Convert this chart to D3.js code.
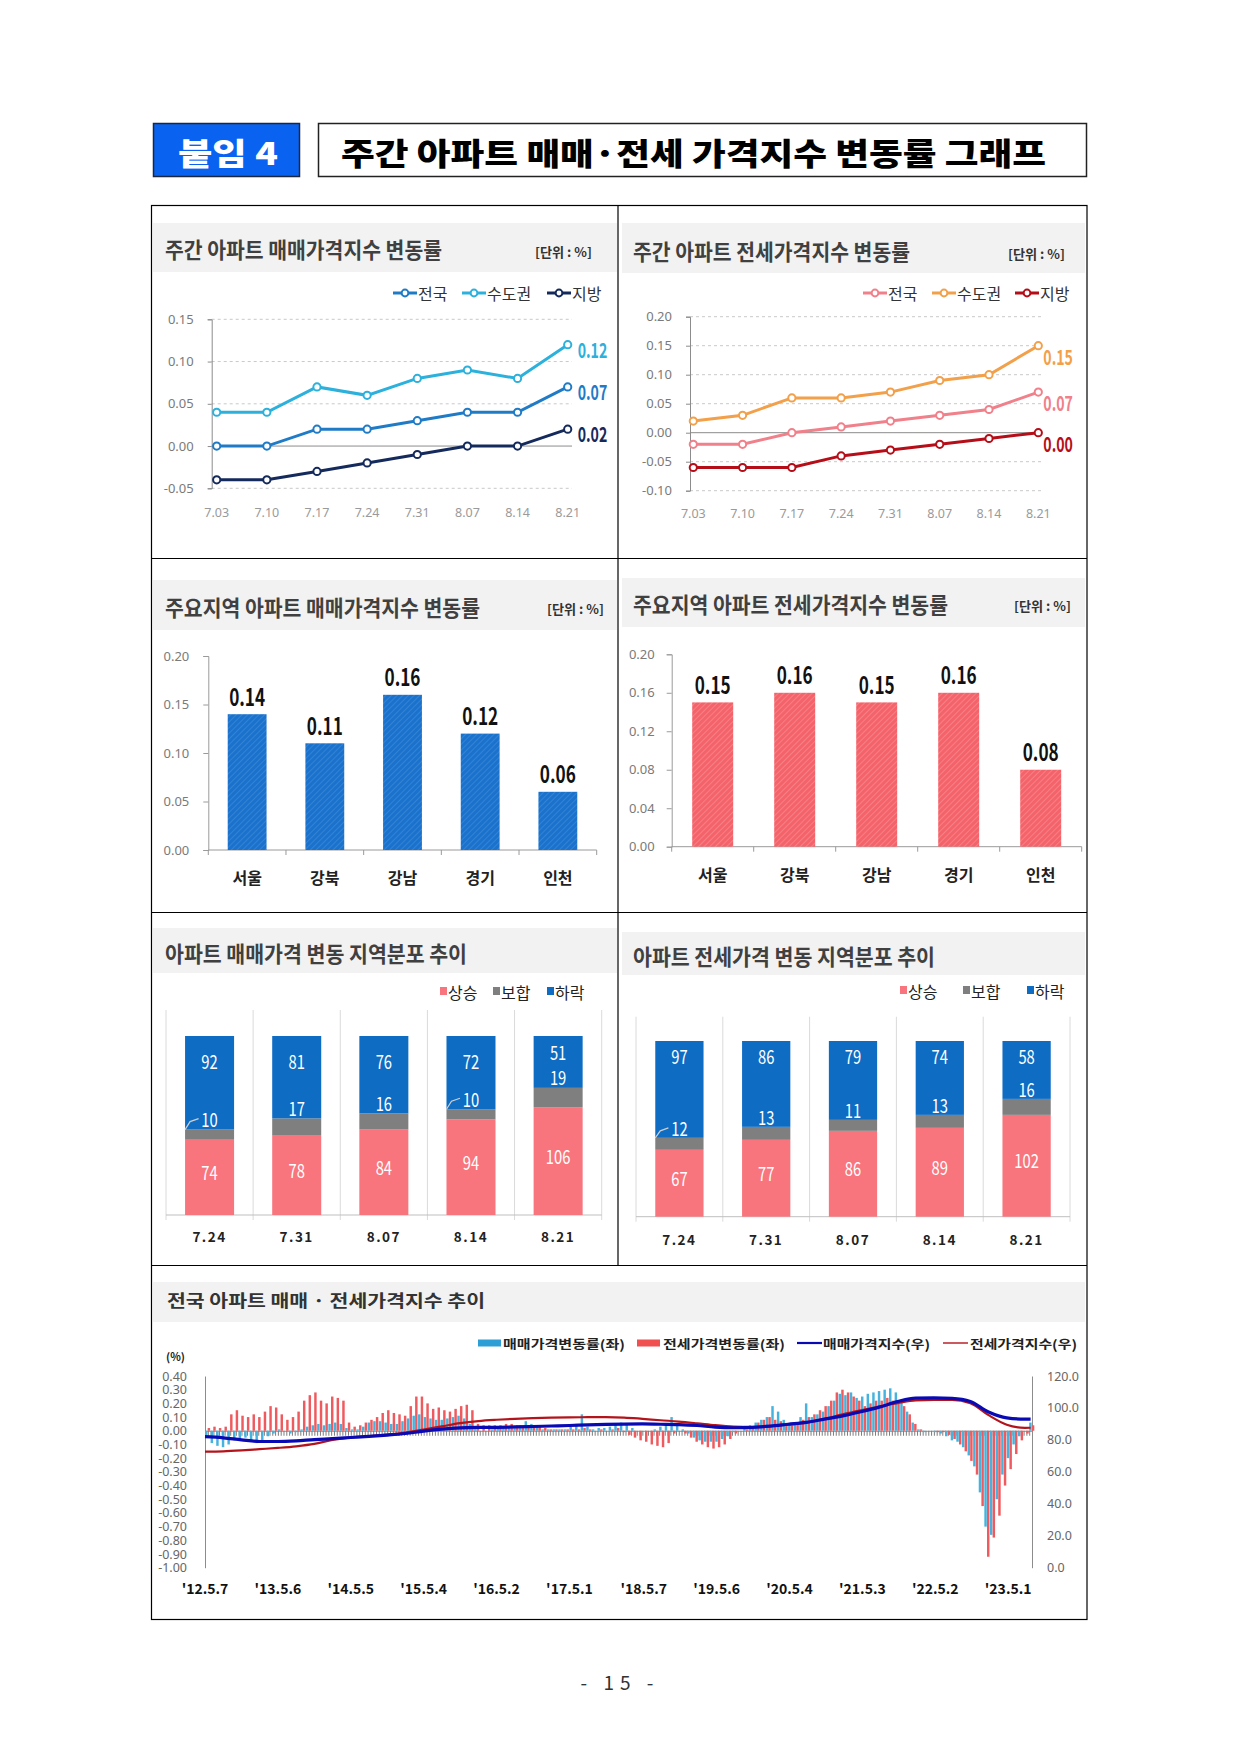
<!DOCTYPE html>
<html>
<head>
<meta charset="utf-8">
<script src="https://cdn.jsdelivr.net/npm/d3@7"></script>
<style>
body { margin: 0; background: #fff; }
svg { display: block; font-family: "Noto Sans CJK KR", "Noto Sans", sans-serif; }
</style>
</head>
<body>
<script>
// ---- data ----
var weekLabels = ["7.03", "7.10", "7.17", "7.24", "7.31", "8.07", "8.14", "8.21"];
var saleNation = [0.00, 0.00, 0.02, 0.02, 0.03, 0.04, 0.04, 0.07];
var saleCapital = [0.04, 0.04, 0.07, 0.06, 0.08, 0.09, 0.08, 0.12];
var saleLocal = [-0.04, -0.04, -0.03, -0.02, -0.01, 0.00, 0.00, 0.02];
var jeonseNation = [-0.02, -0.02, 0.00, 0.01, 0.02, 0.03, 0.04, 0.07];
var jeonseCapital = [0.02, 0.03, 0.06, 0.06, 0.07, 0.09, 0.10, 0.15];
var jeonseLocal = [-0.06, -0.06, -0.06, -0.04, -0.03, -0.02, -0.01, 0.00];
var seriesNames = ["전국", "수도권", "지방"];

var regions = ["서울", "강북", "강남", "경기", "인천"];
var regionSale = [0.14, 0.11, 0.16, 0.12, 0.06];
var regionJeonse = [0.15, 0.16, 0.15, 0.16, 0.08];

var distWeeks = ["7.24", "7.31", "8.07", "8.14", "8.21"];
var distNames = ["상승", "보합", "하락"];
var saleUp = [74, 78, 84, 94, 106];
var saleFlat = [10, 17, 16, 10, 19];
var saleDown = [92, 81, 76, 72, 51];
var jeonseUp = [67, 77, 86, 89, 102];
var jeonseFlat = [12, 13, 11, 13, 16];
var jeonseDown = [97, 86, 79, 74, 58];

// long series, one value per 4 weeks from '12.5.7
var saleChg = [
  -0.05, -0.09, -0.11, -0.12, -0.10, -0.07, -0.06, -0.05, -0.07, -0.09, -0.08, -0.04, -0.02,
  0.01, 0.00, -0.02, -0.01, 0.01, 0.03, 0.04, 0.05, 0.04, 0.05, 0.06, 0.05, 0.02,
  0.01, 0.01, 0.03, 0.06, 0.07, 0.07, 0.06, 0.05, 0.05, 0.07, 0.09, 0.11, 0.12,
  0.10, 0.09, 0.08, 0.08, 0.09, 0.10, 0.11, 0.09, 0.05, 0.02, 0.00, 0.00, 0.01,
  0.02, 0.03, 0.03, 0.03, 0.04, 0.07, 0.05, 0.03, 0.01, 0.01, 0.01, 0.01, 0.01,
  0.03, 0.05, 0.12, 0.03, 0.01, 0.02, 0.02, 0.03, 0.05, 0.06, 0.05, 0.02, 0.00,
  0.00, 0.00, 0.01, 0.03, 0.05, 0.10, 0.05, 0.01, -0.02, -0.05, -0.07, -0.08, -0.08,
  -0.08, -0.06, -0.04, -0.01, 0.00, 0.02, 0.04, 0.06, 0.08, 0.10, 0.18, 0.14, 0.08,
  0.04, 0.05, 0.10, 0.20, 0.10, 0.12, 0.14, 0.18, 0.22, 0.27, 0.26, 0.28, 0.24,
  0.25, 0.27, 0.28, 0.29, 0.30, 0.31, 0.28, 0.22, 0.14, 0.06, 0.01, -0.01, 0.00,
  -0.01, -0.02, -0.04, -0.07, -0.08, -0.12, -0.18, -0.26, -0.45, -0.70, -0.76, -0.50, -0.32,
  -0.20, -0.10, -0.04, 0.00, 0.06
];
var jeonseChg = [
  0.02, 0.03, 0.02, 0.03, 0.12, 0.15, 0.11, 0.10, 0.12, 0.10, 0.14, 0.18, 0.17,
  0.12, 0.08, 0.10, 0.14, 0.22, 0.26, 0.28, 0.22, 0.20, 0.25, 0.24, 0.22, 0.06,
  0.03, 0.04, 0.06, 0.08, 0.10, 0.13, 0.15, 0.13, 0.12, 0.11, 0.18, 0.25, 0.25,
  0.20, 0.16, 0.17, 0.15, 0.14, 0.16, 0.18, 0.19, 0.15, 0.05, 0.04, 0.04, 0.04,
  0.04, 0.05, 0.05, 0.04, 0.03, 0.04, 0.04, 0.03, 0.02, 0.01, 0.01, 0.01, 0.01,
  0.01, 0.01, 0.02, 0.01, 0.00, 0.01, 0.00, 0.01, 0.02, -0.01, -0.03, -0.05, -0.07,
  -0.08, -0.10, -0.11, -0.12, -0.09, -0.02, 0.00, -0.02, -0.05, -0.08, -0.10, -0.12, -0.13,
  -0.12, -0.10, -0.06, -0.02, 0.00, 0.01, 0.03, 0.06, 0.08, 0.10, 0.08, 0.07, 0.05,
  0.04, 0.05, 0.08, 0.10, 0.12, 0.15, 0.18, 0.22, 0.28, 0.30, 0.28, 0.25, 0.22,
  0.18, 0.20, 0.22, 0.22, 0.24, 0.22, 0.22, 0.18, 0.12, 0.05, 0.01, 0.00, 0.00,
  -0.01, -0.01, -0.03, -0.06, -0.10, -0.15, -0.22, -0.32, -0.55, -0.92, -0.78, -0.62, -0.40,
  -0.28, -0.17, -0.07, -0.02, 0.04
];
// index values, one per 13 weeks plus the last week
var saleIdx = [82.0, 81.3, 80.0, 79.0, 79.0, 79.4, 80.2, 80.8, 81.5, 82.2, 83.0, 84.0, 85.5,
  86.7, 87.5, 87.8, 87.9, 88.1, 88.4, 88.7, 89.0, 89.4, 89.7, 89.9, 90.0, 89.8, 89.6, 89.0,
  88.0, 87.6, 87.8, 88.6, 89.8, 91.0, 93.0, 95.0, 97.6, 100.5, 104.0, 106.2, 106.3, 106.0,
  104.0, 97.5, 93.8, 93.0, 93.0];
var jeonseIdx = [72.6, 72.8, 73.4, 74.2, 75.0, 76.0, 77.5, 80.0, 81.6, 82.4, 83.3, 84.6, 86.5,
  88.5, 90.5, 91.8, 92.6, 93.2, 93.6, 93.9, 94.1, 94.2, 94.3, 94.0, 93.2, 92.3, 91.5, 90.4,
  89.2, 88.3, 88.0, 88.5, 89.5, 90.8, 93.2, 96.0, 98.5, 100.8, 103.0, 104.8, 105.0, 105.0,
  103.0, 95.5, 89.5, 87.5, 87.6];
var longTicks = ["'12.5.7", "'13.5.6", "'14.5.5", "'15.5.4", "'16.5.2", "'17.5.1",
  "'18.5.7", "'19.5.6", "'20.5.4", "'21.5.3", "'22.5.2", "'23.5.1"];
var longTickWeeks = [0, 52, 104, 156, 208, 260, 313, 365, 417, 469, 521, 573];
var leftTicks = [0.4, 0.3, 0.2, 0.1, 0, -0.1, -0.2, -0.3, -0.4, -0.5, -0.6, -0.7, -0.8, -0.9, -1.0];
var rightTicks = [0, 20, 40, 60, 80, 100, 120];
var longLegend = ["매매가격변동률(좌)", "전세가격변동률(좌)", "매매가격지수(우)", "전세가격지수(우)"];

var svg = d3.select("body").append("svg")
    .attr("width", 1240)
    .attr("height", 1753);

// squeeze numbers so they look like the narrow figures of the original
function narrow(sel, perChar) {
    sel.attr("lengthAdjust", "spacingAndGlyphs")
        .attr("textLength", function() { return this.textContent.length * perChar; });
}

var defs = svg.append("defs");
function hatch(id, base, stripe) {
    var p = defs.append("pattern")
        .attr("id", id)
        .attr("patternUnits", "userSpaceOnUse")
        .attr("width", 4).attr("height", 4)
        .attr("patternTransform", "rotate(45)");
    p.append("rect").attr("width", 4).attr("height", 4).attr("fill", base);
    p.append("line").attr("x1", 0).attr("y1", 0).attr("x2", 0).attr("y2", 4)
        .attr("stroke", stripe).attr("stroke-width", 1.4);
}
hatch("hatchBlue", "#1a72cc", "#3e8ad8");
hatch("hatchRed", "#f4636a", "#f88c90");

// ---- header ----
svg.append("rect").attr("x", 153.5).attr("y", 123.5).attr("width", 146).attr("height", 53)
    .attr("fill", "#0a63f0").attr("stroke", "#1b2740").attr("stroke-width", 1.5);
svg.append("text").attr("x", 228).attr("y", 151.5).attr("text-anchor", "middle")
    .attr("dominant-baseline", "central")
    .attr("font-size", 31).attr("font-weight", 900).attr("fill", "#fff")
    .attr("textLength", 100).attr("lengthAdjust", "spacingAndGlyphs")
    .text("붙임 4");
svg.append("rect").attr("x", 318.5).attr("y", 123.5).attr("width", 768).attr("height", 53)
    .attr("fill", "#fff").attr("stroke", "#222").attr("stroke-width", 1.5);
svg.append("text").attr("x", 341).attr("y", 151).attr("dominant-baseline", "central")
    .attr("font-size", 31).attr("font-weight", 900).attr("fill", "#000")
    .attr("textLength", 705).attr("lengthAdjust", "spacingAndGlyphs")
    .text("주간 아파트 매매·전세 가격지수 변동률 그래프");

// ---- frame ----
svg.append("rect").attr("x", 151.5).attr("y", 205.5).attr("width", 935.5).attr("height", 1414)
    .attr("fill", "none").attr("stroke", "#000").attr("stroke-width", 1.2);
svg.append("line").attr("x1", 618).attr("x2", 618).attr("y1", 205.5).attr("y2", 1265.5)
    .attr("stroke", "#000").attr("stroke-width", 1.2);
[558.5, 912.5, 1265.5].forEach(function(y) {
    svg.append("line").attr("x1", 151.5).attr("x2", 1087).attr("y1", y).attr("y2", y)
        .attr("stroke", "#000").attr("stroke-width", 1.2);
});

function band(x, y, w, h) {
    svg.append("rect").attr("x", x).attr("y", y).attr("width", w).attr("height", h).attr("fill", "#f2f2f2");
}
function title(x, y, len, size, txt, color) {
    svg.append("text").attr("x", x).attr("y", y).attr("dominant-baseline", "central")
        .attr("font-size", size).attr("font-weight", 700).attr("fill", color || "#404040")
        .attr("textLength", len).attr("lengthAdjust", "spacingAndGlyphs")
        .text(txt);
}
function unit(x, y) {
    svg.append("text").attr("x", x).attr("y", y).attr("dominant-baseline", "central")
        .attr("font-size", 13).attr("font-weight", 700).attr("fill", "#333")
        .attr("textLength", 57).attr("lengthAdjust", "spacingAndGlyphs")
        .text("[단위 : %]");
}

band(153, 223, 464, 49);  title(165, 248, 277, 22, "주간 아파트 매매가격지수 변동률");  unit(535, 251);
band(622, 223, 463, 50);  title(633, 250, 277, 22, "주간 아파트 전세가격지수 변동률");  unit(1008, 253);
band(153, 580, 464, 50);  title(165, 606, 315, 22, "주요지역 아파트 매매가격지수 변동률"); unit(547, 608);
band(622, 578, 463, 49);  title(633, 603, 315, 22, "주요지역 아파트 전세가격지수 변동률"); unit(1014, 605);
band(153, 928, 464, 45);  title(165, 952, 302, 22, "아파트 매매가격 변동 지역분포 추이");
band(622, 932, 463, 43);  title(633, 955, 302, 22, "아파트 전세가격 변동 지역분포 추이");
band(153, 1282, 932, 40); title(167, 1299, 318, 17, "전국 아파트 매매 · 전세가격지수 추이", "#333");

// ---- weekly line charts ----
function lineChart(c) {
    var x = d3.scalePoint().domain(weekLabels).range([c.x0, c.x1]);
    var y = d3.scaleLinear().domain(c.domain).range(c.yRange);
    var g = svg.append("g");

    g.selectAll("line.grid").data(c.ticks).join("line")
        .attr("x1", c.axisX).attr("x2", c.gridRight)
        .attr("y1", function(d) { return y(d); }).attr("y2", function(d) { return y(d); })
        .attr("stroke", function(d) { return d === 0 ? "#8c8c8c" : "#c9c9c9"; })
        .attr("stroke-dasharray", function(d) { return d === 0 ? null : "3,3"; });

    var ax = g.append("g").attr("transform", "translate(" + c.axisX + ",0)")
        .call(d3.axisLeft(y).tickValues(c.ticks).tickSize(4).tickPadding(14)
            .tickFormat(function(d) { return d.toFixed(2); }));
    ax.select(".domain").attr("stroke", "#8c8c8c");
    ax.selectAll(".tick line").attr("stroke", "#8c8c8c");
    ax.selectAll("text").attr("font-size", 13).attr("fill", "#7a7a7a").attr("font-family", "Noto Sans");

    g.selectAll("text.xl").data(weekLabels).join("text")
        .attr("x", function(d) { return x(d); }).attr("y", c.xLabelY)
        .attr("text-anchor", "middle").attr("dominant-baseline", "central")
        .attr("font-size", 12.5).attr("fill", "#9a9a9a").attr("font-family", "Noto Sans")
        .text(function(d) { return d; });

    var line = d3.line().x(function(d, i) { return x(weekLabels[i]); }).y(function(d) { return y(d); });
    c.series.forEach(function(s) {
        g.append("path").attr("d", line(s.vals)).attr("fill", "none")
            .attr("stroke", s.color).attr("stroke-width", 3);
        g.selectAll(null).data(s.vals).join("circle")
            .attr("cx", function(d, i) { return x(weekLabels[i]); })
            .attr("cy", function(d) { return y(d); })
            .attr("r", 3.6).attr("fill", "#fff").attr("stroke", s.color).attr("stroke-width", 2);
        var last = s.vals[s.vals.length - 1];
        g.append("text").attr("x", c.x1 + c.labelDx).attr("y", y(last) + c.labelDy)
            .attr("dominant-baseline", "central")
            .attr("font-size", 21).attr("font-weight", 700).attr("fill", s.color)
            .text(last.toFixed(2))
            .call(narrow, 7.4);
    });

    // legend
    c.series.forEach(function(s, i) {
        var lx = c.legendX + c.legendSteps[i];
        g.append("line").attr("x1", lx).attr("x2", lx + 24).attr("y1", c.legendY).attr("y2", c.legendY)
            .attr("stroke", s.color).attr("stroke-width", 3);
        g.append("circle").attr("cx", lx + 12).attr("cy", c.legendY).attr("r", 3.4)
            .attr("fill", "#fff").attr("stroke", s.color).attr("stroke-width", 2);
        g.append("text").attr("x", lx + 25).attr("y", c.legendY).attr("dominant-baseline", "central")
            .attr("font-size", 16).attr("fill", "#333").text(seriesNames[i]);
    });
}

lineChart({
    x0: 216.7, x1: 567.7, axisX: 211.7, gridRight: 572,
    domain: [-0.05, 0.15], yRange: [488.3, 319.3], ticks: [-0.05, 0, 0.05, 0.10, 0.15],
    xLabelY: 512, labelDx: 10, labelDy: 4,
    legendX: 393, legendSteps: [0, 69, 154], legendY: 293,
    series: [
        { vals: saleNation, color: "#1f7bc6" },
        { vals: saleCapital, color: "#2cb0dc" },
        { vals: saleLocal, color: "#152a5c" }
    ]
});
lineChart({
    x0: 693.3, x1: 1038.3, axisX: 690, gridRight: 1042,
    domain: [-0.10, 0.20], yRange: [490.7, 316.7], ticks: [-0.10, -0.05, 0, 0.05, 0.10, 0.15, 0.20],
    xLabelY: 513.5, labelDx: 5, labelDy: 10,
    legendX: 863, legendSteps: [0, 69, 152], legendY: 293,
    series: [
        { vals: jeonseNation, color: "#f0808a" },
        { vals: jeonseCapital, color: "#f2a04a" },
        { vals: jeonseLocal, color: "#b50e18" }
    ]
});

// ---- regional bar charts ----
function barChart(c) {
    var x = d3.scaleBand().domain(regions).range([c.x0, c.x1]).paddingInner(0.5).paddingOuter(0.25);
    var y = d3.scaleLinear().domain([0, 0.2]).range(c.yRange);
    var g = svg.append("g");

    var ax = g.append("g").attr("transform", "translate(" + c.x0 + ",0)")
        .call(d3.axisLeft(y).tickValues(c.ticks).tickSize(5).tickPadding(c.pad)
            .tickFormat(function(d) { return d.toFixed(2); }));
    ax.select(".domain").attr("stroke", "#9a9a9a");
    ax.selectAll(".tick line").attr("stroke", "#9a9a9a");
    ax.selectAll("text").attr("font-size", 13).attr("fill", "#7a7a7a").attr("font-family", "Noto Sans");

    var y0 = y(0);
    g.append("line").attr("x1", c.x0).attr("x2", c.x1).attr("y1", y0).attr("y2", y0).attr("stroke", "#9a9a9a");
    g.selectAll("line.sep").data(d3.range(regions.length + 1)).join("line")
        .attr("x1", function(i) { return c.x0 + i * x.step(); })
        .attr("x2", function(i) { return c.x0 + i * x.step(); })
        .attr("y1", y0).attr("y2", y0 + 5).attr("stroke", "#9a9a9a");

    g.selectAll("rect.bar").data(c.vals).join("rect")
        .attr("x", function(d, i) { return x(regions[i]); })
        .attr("width", x.bandwidth())
        .attr("y", function(d) { return y(d); })
        .attr("height", function(d) { return y0 - y(d); })
        .attr("fill", c.fill);

    g.selectAll("text.val").data(c.vals).join("text")
        .attr("x", function(d, i) { return x(regions[i]) + x.bandwidth() / 2; })
        .attr("y", function(d) { return y(d) - 19; })
        .attr("text-anchor", "middle").attr("dominant-baseline", "central")
        .attr("font-size", 24).attr("font-weight", 700).attr("fill", "#111")
        .text(function(d) { return d.toFixed(2); })
        .call(narrow, 9);

    g.selectAll("text.cat").data(regions).join("text")
        .attr("x", function(d) { return x(d) + x.bandwidth() / 2; })
        .attr("y", c.catY)
        .attr("text-anchor", "middle").attr("dominant-baseline", "central")
        .attr("font-size", 16).attr("font-weight", 700).attr("fill", "#222")
        .text(function(d) { return d; });
}
barChart({ x0: 208.3, x1: 596.7, yRange: [850, 656], ticks: [0, 0.05, 0.10, 0.15, 0.20], pad: 14,
    vals: regionSale, fill: "url(#hatchBlue)", catY: 877 });
barChart({ x0: 671.7, x1: 1081.7, yRange: [846.7, 654.3], ticks: [0, 0.04, 0.08, 0.12, 0.16, 0.20], pad: 12,
    vals: regionJeonse, fill: "url(#hatchRed)", catY: 873.5 });

// ---- stacked distribution charts ----
var stackColors = ["#f8757d", "#7f7f7f", "#0e6cc3"];
function stackChart(c) {
    var x = d3.scaleBand().domain(distWeeks).range([c.x0, c.x1]);
    var y = d3.scaleLinear().domain([0, 176]).range([c.yBottom, c.yTop]);
    var g = svg.append("g");
    var bw = x.bandwidth() * c.ratio;

    g.selectAll("line.v").data(d3.range(distWeeks.length + 1)).join("line")
        .attr("x1", function(i) { return c.x0 + i * x.step(); })
        .attr("x2", function(i) { return c.x0 + i * x.step(); })
        .attr("y1", c.gridTop).attr("y2", c.yBottom + 5).attr("stroke", "#dadada");
    g.append("line").attr("x1", c.x0).attr("x2", c.x1).attr("y1", c.yBottom).attr("y2", c.yBottom)
        .attr("stroke", "#bfbfbf");

    distWeeks.forEach(function(w, i) {
        var cx = x(w) + x.bandwidth() / 2, left = cx - bw / 2;
        var up = c.up[i], flat = c.flat[i], down = c.down[i];
        var segs = [[0, up], [up, up + flat], [up + flat, up + flat + down]];
        segs.forEach(function(s, k) {
            g.append("rect").attr("x", left).attr("width", bw)
                .attr("y", y(s[1])).attr("height", y(s[0]) - y(s[1]))
                .attr("fill", stackColors[k]);
        });
        var grayTop = y(up + flat);
        var lab = function(t, ly) {
            g.append("text").attr("x", cx).attr("y", ly)
                .attr("text-anchor", "middle").attr("dominant-baseline", "central")
                .attr("font-size", 19).attr("fill", "#fff").text(t)
                .call(narrow, 8.2);
        };
        lab(up, (y(0) + y(up)) / 2 - 6);
        var fy = grayTop - c.flatDy;
        lab(flat, fy);
        lab(down, Math.min(y(176) + c.downDy, grayTop - 36));
        if (c.leaders.indexOf(i) >= 0) {
            g.append("polyline")
                .attr("points", [[left, grayTop], [left + 5, fy + 3], [cx - 11, fy]].join(" "))
                .attr("fill", "none").attr("stroke", "#cfcfcf").attr("stroke-width", 1.2);
        }
    });

    g.selectAll("text.xl").data(distWeeks).join("text")
        .attr("x", function(d) { return x(d) + x.bandwidth() / 2; })
        .attr("y", c.xLabelY).attr("text-anchor", "middle").attr("dominant-baseline", "central")
        .attr("font-size", 13.5).attr("font-weight", 700).attr("letter-spacing", 1.5).attr("fill", "#222")
        .text(function(d) { return d; });

    distNames.forEach(function(n, k) {
        var lx = c.legendX + c.legendSteps[k];
        g.append("rect").attr("x", lx).attr("y", c.legendY - 5).attr("width", 7).attr("height", 8)
            .attr("fill", stackColors[k]);
        g.append("text").attr("x", lx + 8).attr("y", c.legendY).attr("dominant-baseline", "central")
            .attr("font-size", 16).attr("fill", "#222").text(n);
    });
}
stackChart({ x0: 166, x1: 601.7, yBottom: 1215, yTop: 1036, gridTop: 1010, ratio: 0.5625,
    up: saleUp, flat: saleFlat, down: saleDown, flatDy: 11, downDy: 24, leaders: [0, 3],
    xLabelY: 1236, legendX: 440, legendSteps: [0, 53, 107], legendY: 992 });
stackChart({ x0: 636, x1: 1070, yBottom: 1216.7, yTop: 1041, gridTop: 1016.7, ratio: 0.556,
    up: jeonseUp, flat: jeonseFlat, down: jeonseDown, flatDy: 10, downDy: 14, leaders: [0],
    xLabelY: 1238.5, legendX: 900, legendSteps: [0, 63, 127], legendY: 991 });

// ---- long-term chart ----
(function() {
    var g = svg.append("g");
    var xW = d3.scaleLinear().domain([0, 590]).range([205, 1032]);
    var yL = d3.scaleLinear().domain([-1.0, 0.4]).range([1567.7, 1376]);
    var yR = d3.scaleLinear().domain([0, 120]).range([1567.7, 1376]);

    var la = g.append("g").attr("transform", "translate(205,0)")
        .call(d3.axisLeft(yL).tickValues(leftTicks).tickSize(0).tickPadding(18)
            .tickFormat(function(d) { return d.toFixed(2); }));
    la.select(".domain").attr("stroke", "#8c8c8c");
    la.selectAll("text").attr("font-size", 12.5).attr("fill", "#666").attr("font-family", "Noto Sans");

    var ra = g.append("g").attr("transform", "translate(1032,0)")
        .call(d3.axisRight(yR).tickValues(rightTicks).tickSize(0).tickPadding(15)
            .tickFormat(function(d) { return d.toFixed(1); }));
    ra.select(".domain").attr("stroke", "#8c8c8c");
    ra.selectAll("text").attr("font-size", 12.5).attr("fill", "#666").attr("font-family", "Noto Sans");

    var comb = g.append("g").attr("transform", "translate(0," + yL(0) + ")")
        .call(d3.axisBottom(xW).tickValues(d3.range(0, 590, 2)).tickSize(5).tickFormat(""));
    comb.select(".domain").attr("stroke", "#8c8c8c");
    comb.selectAll(".tick line").attr("stroke", "#7d7d7d");

    var w1 = xW(1.75) - xW(0);
    g.selectAll("rect.s").data(saleChg).join("rect")
        .attr("x", function(d, i) { return xW(i * 4); })
        .attr("width", w1)
        .attr("y", function(d) { return Math.min(yL(d), yL(0)); })
        .attr("height", function(d) { return Math.abs(yL(d) - yL(0)); })
        .attr("fill", "#45b3de");
    g.selectAll("rect.j").data(jeonseChg).join("rect")
        .attr("x", function(d, i) { return xW(i * 4 + 1.9); })
        .attr("width", w1)
        .attr("y", function(d) { return Math.min(yL(d), yL(0)); })
        .attr("height", function(d) { return Math.abs(yL(d) - yL(0)); })
        .attr("fill", "#ef5a5e");

    var idxWeek = function(i, arr) { return i === arr.length - 1 ? 589 : i * 13; };
    var mk = function(arr) {
        return d3.line().curve(d3.curveMonotoneX)
            .x(function(d, i) { return xW(idxWeek(i, arr)); })
            .y(function(d) { return yR(d); })(arr);
    };
    g.append("path").attr("d", mk(jeonseIdx)).attr("fill", "none").attr("stroke", "#b3141b").attr("stroke-width", 2.2);
    g.append("path").attr("d", mk(saleIdx)).attr("fill", "none").attr("stroke", "#0a0ab4").attr("stroke-width", 3.2);

    g.selectAll("text.xl").data(longTicks).join("text")
        .attr("x", function(d, i) { return xW(longTickWeeks[i]); })
        .attr("y", 1588).attr("text-anchor", "middle").attr("dominant-baseline", "central")
        .attr("font-size", 14).attr("font-weight", 700).attr("fill", "#111")
        .text(function(d) { return d; });

    g.append("text").attr("x", 166).attr("y", 1356).attr("dominant-baseline", "central")
        .attr("font-size", 11).attr("font-weight", 700).attr("fill", "#222").text("(%)");

    // legend
    var ly = 1343;
    var items = [
        { x: 478, kind: "rect", color: "#2e9fd6", tx: 503, tl: 122 },
        { x: 637, kind: "rect", color: "#f05050", tx: 663, tl: 122 },
        { x: 797, kind: "line", color: "#0a0ab4", tx: 823, tl: 107 },
        { x: 943, kind: "line", color: "#b3141b", tx: 970, tl: 107 }
    ];
    items.forEach(function(it, i) {
        if (it.kind === "rect") {
            g.append("rect").attr("x", it.x).attr("y", ly - 3.5).attr("width", 23).attr("height", 7).attr("fill", it.color);
        } else {
            g.append("line").attr("x1", it.x).attr("x2", it.x + 25).attr("y1", ly).attr("y2", ly)
                .attr("stroke", it.color).attr("stroke-width", i === 2 ? 2.2 : 1.4);
        }
        g.append("text").attr("x", it.tx).attr("y", ly).attr("dominant-baseline", "central")
            .attr("font-size", 12.5).attr("font-weight", 700).attr("fill", "#222")
            .attr("textLength", it.tl).attr("lengthAdjust", "spacingAndGlyphs")
            .text(longLegend[i]);
    });
})();

// ---- page number ----
svg.append("text").attr("x", 620).attr("y", 1681).attr("text-anchor", "middle")
    .attr("dominant-baseline", "central").attr("font-size", 19).attr("fill", "#333")
    .attr("letter-spacing", 6)
    .text("- 15 -");
</script>
</body>
</html>
